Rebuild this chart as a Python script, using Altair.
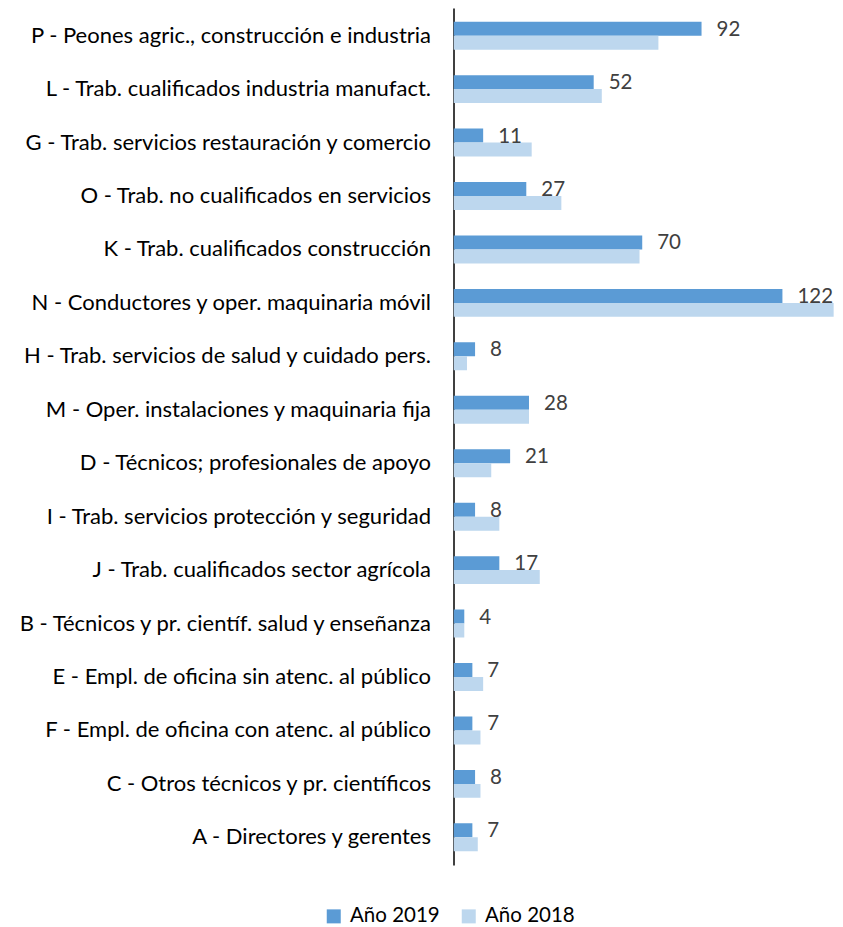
import altair as alt
import pandas as pd

categorias = [
    "P - Peones agric., construcción e industria",
    "L - Trab. cualificados industria manufact.",
    "G - Trab. servicios restauración y comercio",
    "O - Trab. no cualificados en servicios",
    "K - Trab. cualificados construcción",
    "N - Conductores y oper. maquinaria móvil",
    "H - Trab. servicios de salud y cuidado pers.",
    "M - Oper. instalaciones y maquinaria fija",
    "D - Técnicos; profesionales de apoyo",
    "I - Trab. servicios protección y seguridad",
    "J - Trab. cualificados sector agrícola",
    "B - Técnicos y pr. científ. salud y enseñanza",
    "E - Empl. de oficina sin atenc. al público",
    "F - Empl. de oficina con atenc. al público",
    "C - Otros técnicos y pr. científicos",
    "A - Directores y gerentes",
]
valores_2019 = [92, 52, 11, 27, 70, 122, 8, 28, 21, 8, 17, 4, 7, 7, 8, 7]
valores_2018 = [76, 55, 29, 40, 69, 141, 5, 28, 14, 17, 32, 4, 11, 10, 10, 9]
series = ["Año 2019", "Año 2018"]
colores = ["#5B9BD5", "#BDD7EE"]

rows = []
for c, v19, v18 in zip(categorias, valores_2019, valores_2018):
    rows.append({"cat": c, "serie": series[0], "valor": v19})
    rows.append({"cat": c, "serie": series[1], "valor": v18})
df = pd.DataFrame(rows)

FONT = "Lato"

y_enc = alt.Y(
    "cat:N",
    sort=categorias,
    scale=alt.Scale(paddingInner=0.477, paddingOuter=0.256),
    axis=alt.Axis(
        title=None,
        ticks=False,
        labelPadding=23,
        labelFont=FONT,
        labelFontSize=22,
        labelColor="#000000",
        labelLimit=0,
        domainColor="#000000",
        domainWidth=1.5,
        grid=False,
    ),
)
yoff = alt.YOffset("serie:N", sort=series, scale=alt.Scale(domain=series))
x_enc = alt.X("valor:Q", scale=alt.Scale(domain=[0, 141.5], nice=False, zero=True), axis=None)

bars = alt.Chart(df).mark_bar(clip=True).encode(
    y=y_enc,
    yOffset=yoff,
    x=x_enc,
    color=alt.Color(
        "serie:N",
        sort=series,
        scale=alt.Scale(domain=series, range=colores),
        legend=alt.Legend(
            title=None,
            orient="none",
            direction="horizontal",
            legendX=-130,
            legendY=898,
            symbolType="square",
            symbolSize=196,
            symbolStrokeWidth=0,
            labelFont=FONT,
            labelFontSize=20.5,
            labelColor="#000000",
            labelOffset=6,
            columnPadding=18,
        ),
    ),
)

labels = alt.Chart(df).transform_filter(
    alt.datum.serie == series[0]
).mark_text(
    align="left", baseline="middle", dx=15, dy=1, font=FONT, fontSize=20.5, color="#404040"
).encode(
    y=y_enc,
    yOffset=yoff,
    x=x_enc,
    text=alt.Text("valor:Q"),
)

chart = alt.layer(bars, labels).properties(
    width=381.5,
    height=857,
    autosize=alt.AutoSizeParams(type="none"),
    padding={"left": 445.5, "top": 0, "right": 0, "bottom": 62},
).configure_view(stroke=None)

chart.save("out.html", embed_options={"renderer": "svg", "actions": False})
